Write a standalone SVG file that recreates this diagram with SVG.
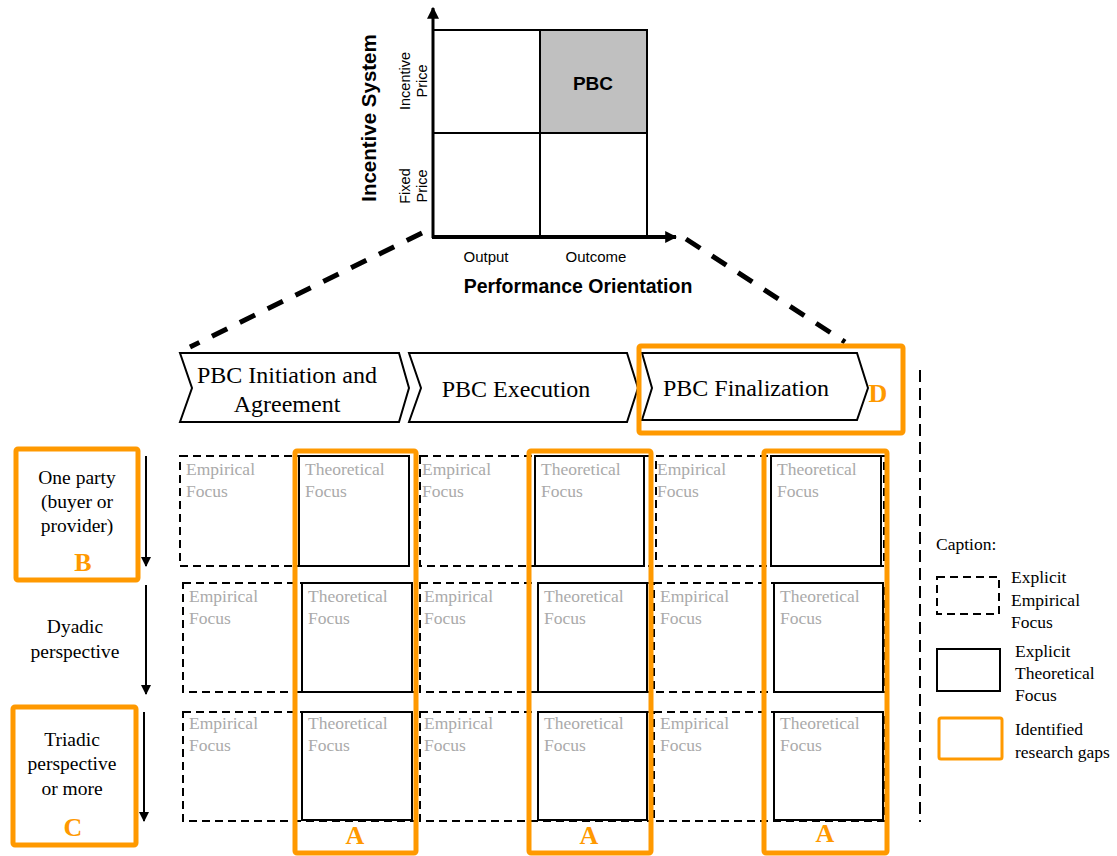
<svg xmlns="http://www.w3.org/2000/svg" width="1117" height="856" viewBox="0 0 1117 856">
<defs>
<style>
.ax{font-family:"Liberation Sans",Arial,sans-serif;fill:#000}
.tm{font-family:"Liberation Serif","Times New Roman",serif;fill:#000}
.gr{font-family:"Liberation Serif","Times New Roman",serif;fill:#aaaaaa;font-size:17.5px}
.og{font-family:"Liberation Serif","Times New Roman",serif;fill:#FF9900;font-weight:bold}
.dash{fill:none;stroke:#000;stroke-width:2;stroke-dasharray:8,5}
.solid{fill:none;stroke:#000;stroke-width:2}
.gap{fill:none;stroke:#FF9900;stroke-width:5}
.chev{fill:#fff;stroke:#000;stroke-width:2}
</style>
<marker id="ah" viewBox="0 0 10 10" refX="9" refY="5" markerWidth="10" markerHeight="10" markerUnits="userSpaceOnUse" orient="auto"><path d="M0,0 L10,5 L0,10 z" fill="#000"/></marker>
<marker id="ah2" viewBox="0 0 10 10" refX="9" refY="5" markerWidth="12" markerHeight="12" markerUnits="userSpaceOnUse" orient="auto"><path d="M0,0 L10,5 L0,10 z" fill="#000"/></marker>
</defs>
<rect width="1117" height="856" fill="#fff"/>

<g id="matrix">
<rect x="540" y="30" width="107" height="103" fill="#c0c0c0"/>
<rect x="433" y="30" width="214" height="207" class="solid"/>
<line x1="540" y1="30" x2="540" y2="237" stroke="#000" stroke-width="2"/>
<line x1="433" y1="133" x2="647" y2="133" stroke="#000" stroke-width="2"/>
<line x1="433" y1="238" x2="433" y2="8" stroke="#000" stroke-width="3" marker-end="url(#ah2)"/>
<line x1="432" y1="237" x2="676" y2="237" stroke="#000" stroke-width="4" marker-end="url(#ah2)"/>
<text x="593" y="90" class="ax" font-size="19" font-weight="bold" text-anchor="middle">PBC</text>
<text transform="translate(376,118) rotate(-90)" class="ax" font-size="20.5" font-weight="bold" text-anchor="middle">Incentive  System</text>
<text transform="translate(410,81) rotate(-90)" class="ax" font-size="14.5" text-anchor="middle">Incentive</text>
<text transform="translate(427,81) rotate(-90)" class="ax" font-size="14.5" text-anchor="middle">Price</text>
<text transform="translate(410,186) rotate(-90)" class="ax" font-size="14.5" text-anchor="middle">Fixed</text>
<text transform="translate(427,186) rotate(-90)" class="ax" font-size="14.5" text-anchor="middle">Price</text>
<text x="486" y="262" class="ax" font-size="15" text-anchor="middle">Output</text>
<text x="596" y="262" class="ax" font-size="15" text-anchor="middle">Outcome</text>
<text x="578" y="293" class="ax" font-size="19.5" font-weight="bold" text-anchor="middle">Performance Orientation</text>
</g>

<g id="connectors">
<line x1="422" y1="233" x2="190" y2="347" stroke="#000" stroke-width="5" stroke-dasharray="17,14"/>
<line x1="686" y1="239" x2="845" y2="342" stroke="#000" stroke-width="5" stroke-dasharray="17,14"/>
<line x1="920" y1="370" x2="920" y2="822" stroke="#000" stroke-width="2" stroke-dasharray="12,6"/>
<line x1="146" y1="456" x2="146" y2="566" stroke="#000" stroke-width="2" marker-end="url(#ah)"/>
<line x1="146" y1="585" x2="146" y2="694" stroke="#000" stroke-width="2" marker-end="url(#ah)"/>
<line x1="144" y1="712" x2="144" y2="821" stroke="#000" stroke-width="2" marker-end="url(#ah)"/>
</g>

<g id="phase1">
<polygon points="180,353 399,353 409,388 399,422 180,422 192,388" class="chev"/>
<text x="287" y="383" class="tm" font-size="24" text-anchor="middle">PBC Initiation  and</text>
<text x="287" y="412" class="tm" font-size="24" text-anchor="middle">Agreement</text>
</g>
<g id="phase2">
<polygon points="409,353 627,353 638,388 627,422 409,422 421,388" class="chev"/>
<text x="516" y="397" class="tm" font-size="24" text-anchor="middle">PBC Execution</text>
</g>
<g id="phase3">
<polygon points="642,353 857,353 868,388 857,420 642,420 652,388" class="chev"/>
<text x="746" y="396" class="tm" font-size="24" text-anchor="middle">PBC Finalization</text>
</g>
<g id="gapD">
<rect x="639" y="346" width="264" height="87" rx="2" class="gap"/>
<text x="878" y="402" class="og" font-size="26" text-anchor="middle">D</text>
</g>

<g id="rowlabels">
<g id="gapB">
<rect x="16" y="449" width="122" height="131" rx="2" class="gap"/>
<text x="77" y="484" class="tm" font-size="19.5" text-anchor="middle">One party</text>
<text x="77" y="508" class="tm" font-size="19.5" text-anchor="middle">(buyer or</text>
<text x="77" y="532" class="tm" font-size="19.5" text-anchor="middle">provider)</text>
<text x="83" y="571" class="og" font-size="26" text-anchor="middle">B</text>
</g>
<g id="dyadic">
<text x="75" y="633" class="tm" font-size="19.5" text-anchor="middle">Dyadic</text>
<text x="75" y="658" class="tm" font-size="19.5" text-anchor="middle">perspective</text>
</g>
<g id="gapC">
<rect x="13" y="707" width="123" height="138" rx="2" class="gap"/>
<text x="72" y="746" class="tm" font-size="19.5" text-anchor="middle">Triadic</text>
<text x="72" y="770" class="tm" font-size="19.5" text-anchor="middle">perspective</text>
<text x="72" y="795" class="tm" font-size="19.5" text-anchor="middle">or more</text>
<text x="73" y="836" class="og" font-size="26" text-anchor="middle">C</text>
</g>
</g>

<g id="grid">
<g id="row1">
<rect x="180" y="456" width="235" height="110" class="dash"/>
<rect x="420" y="456" width="232" height="110" class="dash"/>
<rect x="656" y="456" width="228" height="110" class="dash"/>
<rect x="299" y="456" width="110" height="110" class="solid"/>
<rect x="535" y="456" width="109" height="110" class="solid"/>
<rect x="771" y="456" width="110" height="110" class="solid"/>
<text x="186" y="475" class="gr">Empirical</text><text x="186" y="497" class="gr">Focus</text>
<text x="305" y="475" class="gr">Theoretical</text><text x="305" y="497" class="gr">Focus</text>
<text x="422" y="475" class="gr">Empirical</text><text x="422" y="497" class="gr">Focus</text>
<text x="541" y="475" class="gr">Theoretical</text><text x="541" y="497" class="gr">Focus</text>
<text x="657" y="475" class="gr">Empirical</text><text x="657" y="497" class="gr">Focus</text>
<text x="777" y="475" class="gr">Theoretical</text><text x="777" y="497" class="gr">Focus</text>
</g>
<g id="row2">
<rect x="183" y="583" width="232" height="109" class="dash"/>
<rect x="420" y="583" width="232" height="109" class="dash"/>
<rect x="654" y="583" width="230" height="109" class="dash"/>
<rect x="302" y="583" width="110" height="109" class="solid"/>
<rect x="538" y="583" width="109" height="109" class="solid"/>
<rect x="774" y="583" width="109" height="109" class="solid"/>
<text x="189" y="602" class="gr">Empirical</text><text x="189" y="624" class="gr">Focus</text>
<text x="308" y="602" class="gr">Theoretical</text><text x="308" y="624" class="gr">Focus</text>
<text x="424" y="602" class="gr">Empirical</text><text x="424" y="624" class="gr">Focus</text>
<text x="544" y="602" class="gr">Theoretical</text><text x="544" y="624" class="gr">Focus</text>
<text x="660" y="602" class="gr">Empirical</text><text x="660" y="624" class="gr">Focus</text>
<text x="780" y="602" class="gr">Theoretical</text><text x="780" y="624" class="gr">Focus</text>
</g>
<g id="row3">
<rect x="183" y="712" width="232" height="109" class="dash"/>
<rect x="420" y="712" width="232" height="109" class="dash"/>
<rect x="654" y="712" width="230" height="109" class="dash"/>
<rect x="302" y="712" width="110" height="108" class="solid"/>
<rect x="538" y="712" width="109" height="108" class="solid"/>
<rect x="774" y="712" width="109" height="108" class="solid"/>
<text x="189" y="729" class="gr">Empirical</text><text x="189" y="751" class="gr">Focus</text>
<text x="308" y="729" class="gr">Theoretical</text><text x="308" y="751" class="gr">Focus</text>
<text x="424" y="729" class="gr">Empirical</text><text x="424" y="751" class="gr">Focus</text>
<text x="544" y="729" class="gr">Theoretical</text><text x="544" y="751" class="gr">Focus</text>
<text x="660" y="729" class="gr">Empirical</text><text x="660" y="751" class="gr">Focus</text>
<text x="780" y="729" class="gr">Theoretical</text><text x="780" y="751" class="gr">Focus</text>
</g>
</g>

<g id="gapA1">
<rect x="295" y="451" width="121" height="402" rx="2" class="gap"/>
<text x="355" y="844" class="og" font-size="26" text-anchor="middle">A</text>
</g>
<g id="gapA2">
<rect x="529" y="451" width="122" height="402" rx="2" class="gap"/>
<text x="589" y="844" class="og" font-size="26" text-anchor="middle">A</text>
</g>
<g id="gapA3">
<rect x="764" y="451" width="123" height="402" rx="2" class="gap"/>
<text x="825" y="842" class="og" font-size="26" text-anchor="middle">A</text>
</g>

<g id="legend">
<text x="936" y="550" class="tm" font-size="17.5">Caption:</text>
<rect x="937" y="577" width="62" height="37" class="dash"/>
<text x="1011" y="583" class="tm" font-size="17.5">Explicit</text>
<text x="1011" y="606" class="tm" font-size="17.5">Empirical</text>
<text x="1011" y="628" class="tm" font-size="17.5">Focus</text>
<rect x="937" y="649" width="63" height="42" class="solid"/>
<text x="1015" y="657" class="tm" font-size="17.5">Explicit</text>
<text x="1015" y="679" class="tm" font-size="17.5">Theoretical</text>
<text x="1015" y="701" class="tm" font-size="17.5">Focus</text>
<rect x="939" y="718" width="63" height="41" rx="2" fill="none" stroke="#FF9900" stroke-width="3"/>
<text x="1015" y="735" class="tm" font-size="17.5">Identified</text>
<text x="1015" y="758" class="tm" font-size="17.5">research gaps</text>
</g>
</svg>
